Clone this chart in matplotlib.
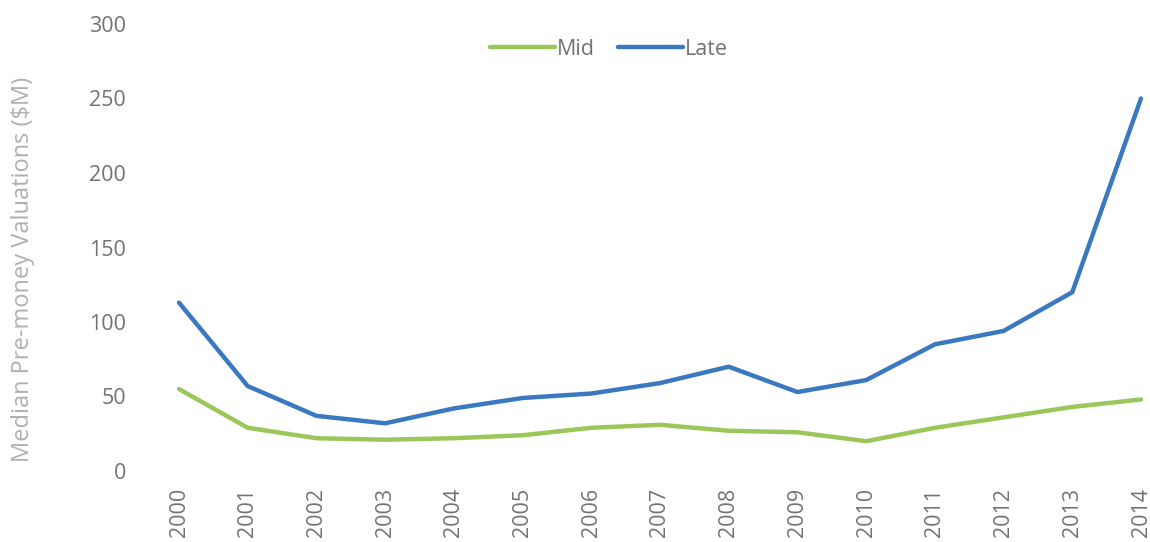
import matplotlib.pyplot as plt

years = [str(y) for y in range(2000, 2015)]
mid = [55, 29, 22, 21, 22, 24, 29, 31, 27, 26, 20, 29, 36, 43, 48]
late = [113, 57, 37, 32, 42, 49, 52, 59, 70, 53, 61, 85, 94, 120, 250]

plt.rcParams['font.family'] = ['Open Sans', 'DejaVu Sans']

fig = plt.figure(figsize=(11.5, 5.42), dpi=100)
ax = fig.add_axes([179 / 1150, 1 - 471 / 542, (1141 - 179) / 1150, (471 - 24) / 542])

x = range(len(years))
ax.plot(x, mid, color='#9BC75A', lw=3.2, label='Mid', clip_on=False, solid_capstyle='round')
ax.plot(x, late, color='#3A78BF', lw=3.2, label='Late', clip_on=False, solid_capstyle='round')

ax.set_xlim(0, len(years) - 1)
ax.set_ylim(0, 300)
ax.set_yticks(range(0, 301, 50))
ax.set_xticks(list(x))
ax.set_xticklabels(years, rotation=90)
ax.tick_params(axis='y', length=0, pad=38, labelsize=15.5, labelcolor='#737373')
ax.tick_params(axis='x', length=0, pad=12, labelsize=15.5, labelcolor='#737373')
for s in ax.spines.values():
    s.set_visible(False)

ax.set_ylabel('Median Pre-money Valuations ($M)', fontsize=17, color='#b0b0b0')
ax.yaxis.set_label_coords(-0.15, 0.45)

ax.legend(loc='upper center', bbox_to_anchor=(0.447, 1.01), ncol=2, frameon=False,
          fontsize=15.5, labelcolor='#737373', handlelength=3.0, handletextpad=0.1,
          columnspacing=1.1)

fig.savefig('out.png', dpi=100)
